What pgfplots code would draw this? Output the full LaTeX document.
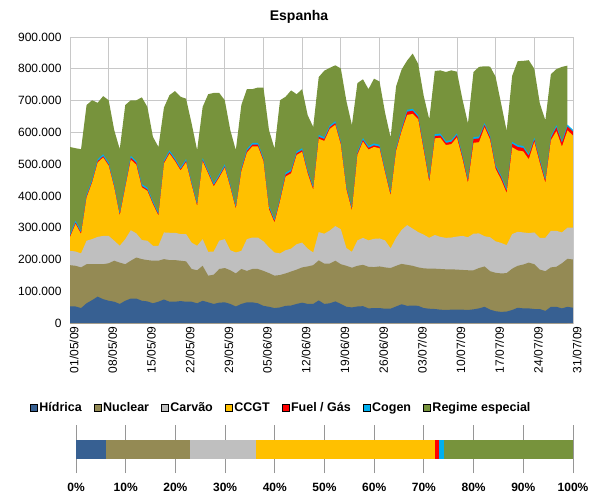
\documentclass[border=0pt]{standalone}
\usepackage{pgfplots}
\pgfplotsset{compat=1.18}
\usepackage{pgfplotstable}
\usepackage{fontspec}
\setmainfont{Liberation Sans}
\definecolor{cH}{RGB}{55,96,146}
\definecolor{cN}{RGB}{148,138,84}
\definecolor{cC}{RGB}{191,191,191}
\definecolor{cG}{RGB}{255,192,0}
\definecolor{cF}{RGB}{255,0,0}
\definecolor{cK}{RGB}{0,176,240}
\definecolor{cR}{RGB}{119,147,60}
\definecolor{gridc}{RGB}{200,200,200}
\definecolor{bargrid}{RGB}{150,150,150}

% values in thousands (MWh)
\pgfplotstableread{
d H N C G F K R
0 52 130 45 43 4 6 274
1 52 128 45 87 4 6 228
2 47 128 44 61 4 6 257
3 62 123 74 136 4 6 281
4 72 113 79 178 4 6 249
5 83 102 86 234 4 6 178
6 75 110 89 247 4 6 183
7 70 118 86 221 4 6 196
8 67 129 63 168 4 6 170
9 60 130 53 95 4 6 199
10 70 115 79 163 4 6 249
11 77 119 96 222 6 6 175
12 77 129 76 216 6 6 191
13 70 131 60 166 4 6 273
14 68 130 61 157 4 6 254
15 62 134 47 131 4 6 202
16 67 129 47 95 4 6 206
17 74 127 84 217 4 6 166
18 67 131 86 249 4 6 174
19 67 131 86 225 4 6 211
20 69 127 84 200 4 6 222
21 67 127 86 226 4 6 190
22 67 103 83 182 4 6 183
23 62 104 77 125 4 6 166
24 70 110 84 245 4 6 161
25 65 84 75 246 4 6 240
26 60 92 73 205 4 6 284
27 64 106 89 199 4 6 256
28 65 108 91 225 4 6 202
29 60 106 63 198 4 6 170
30 52 104 66 137 4 6 175
31 60 110 57 251 5 6 197
32 65 99 100 272 5 6 189
33 65 105 99 287 5 6 169
34 62 108 99 287 5 6 174
35 54 110 93 252 5 6 221
36 51 106 81 120 5 6 238
37 47 102 73 94 5 6 222
38 49 102 68 165 5 6 306
39 54 102 73 232 6 6 239
40 55 107 72 237 6 6 249
41 60 108 80 281 5 6 180
42 64 111 78 286 5 6 186
43 60 118 56 237 5 6 172
44 60 122 40 197 5 6 187
45 71 126 89 294 6 6 182
46 60 127 94 292 6 6 209
47 62 125 104 320 5 6 181
48 68 128 109 319 5 6 176
49 60 125 110 266 5 6 229
50 51 129 56 185 5 6 267
51 49 125 50 130 5 6 258
52 52 128 80 269 5 6 215
53 53 130 85 303 5 6 185
54 46 131 83 286 5 6 179
55 47 129 89 289 5 6 204
56 47 131 88 284 5 6 199
57 45 130 85 214 5 6 177
58 45 128 62 166 5 6 172
59 52 128 88 274 5 6 192
60 59 127 107 311 5 6 183
61 54 129 125 347 10 6 155
62 55 125 117 361 10 6 174
63 54 121 111 355 7 6 161
64 47 125 106 265 7 6 158
65 45 126 97 175 7 6 185
66 44 127 106 304 7 6 199
67 42 128 101 312 7 6 199
68 41 128 99 292 7 6 217
69 42 127 100 294 7 6 219
70 42 126 104 312 7 6 194
71 42 125 107 243 7 6 174
72 41 125 104 171 7 6 174
73 43 123 115 286 12 6 205
74 46 127 109 287 12 6 219
75 51 127 95 343 7 6 179
76 42 121 107 307 7 6 217
77 37 121 99 228 7 6 277
78 35 121 96 199 7 6 226
79 36 121 88 164 7 6 183
80 41 130 109 273 11 6 208
81 48 132 107 256 11 6 264
82 46 138 101 255 11 6 268
83 46 144 93 232 11 6 295
84 44 141 100 285 7 6 217
85 44 124 100 235 7 6 175
86 38 125 105 173 7 6 184
87 51 124 115 285 7 6 195
88 51 126 113 314 12 6 177
89 46 142 97 270 12 6 233
90 51 151 98 306 12 6 186
91 48 152 100 290 12 6 0
}\data

\begin{document}
\begin{tikzpicture}
\path[use as bounding box] (0pt,0pt) rectangle (596pt,-501pt);
\node[font=\bfseries\fontsize{14}{16}\selectfont] at (299pt,-17pt) {Espanha};

\begin{axis}[
  at={(70pt,-323pt)}, anchor=south west,
  width=503pt, height=286pt, scale only axis,
  xmin=0, xmax=91, ymin=0, ymax=900,
  xtick={0,7,...,91},
  xticklabels={01/05/09,08/05/09,15/05/09,22/05/09,29/05/09,05/06/09,12/06/09,19/06/09,26/06/09,03/07/09,10/07/09,17/07/09,24/07/09,31/07/09},
  ytick={0,100,...,900},
  yticklabels={0,100.000,200.000,300.000,400.000,500.000,600.000,700.000,800.000,900.000},
  /pgf/number format/assume math mode=true,
  grid=major, grid style={gridc, line width=0.8pt},
  axis line style={gridc, line width=0.8pt},
  major tick length=0pt,
  tick label style={font=\fontsize{12}{14}\selectfont},
  xticklabel style={rotate=90, anchor=east, yshift=-4pt},
  yticklabel style={xshift=-5pt},
  legend columns=7,
  legend style={at={(0.42,-0.297)}, anchor=center, draw=none, fill=none,
    font=\bfseries\fontsize{12.5}{14}\selectfont, inner sep=0pt,
    /tikz/every even column/.append style={column sep=10pt},
    nodes={inner xsep=2pt}},
  legend image code/.code={\fill[#1] (0pt,-3.5pt) rectangle (7pt,3.5pt);},
]
\addplot[fill=cR, draw=none, forget plot, restrict x to domain=0:90]
  table[x=d, y expr=\thisrow{H}+\thisrow{N}+\thisrow{C}+\thisrow{G}+\thisrow{F}+\thisrow{K}+\thisrow{R}] {\data} \closedcycle;
\addplot[fill=cK, draw=none, forget plot]
  table[x=d, y expr=\thisrow{H}+\thisrow{N}+\thisrow{C}+\thisrow{G}+\thisrow{F}+\thisrow{K}] {\data} \closedcycle;
\addplot[fill=cF, draw=none, forget plot]
  table[x=d, y expr=\thisrow{H}+\thisrow{N}+\thisrow{C}+\thisrow{G}+\thisrow{F}] {\data} \closedcycle;
\addplot[fill=cG, draw=none, forget plot]
  table[x=d, y expr=\thisrow{H}+\thisrow{N}+\thisrow{C}+\thisrow{G}] {\data} \closedcycle;
\addplot[fill=cC, draw=none, forget plot]
  table[x=d, y expr=\thisrow{H}+\thisrow{N}+\thisrow{C}] {\data} \closedcycle;
\addplot[fill=cN, draw=none, forget plot]
  table[x=d, y expr=\thisrow{H}+\thisrow{N}] {\data} \closedcycle;
\addplot[fill=cH, draw=none, forget plot]
  table[x=d, y=H] {\data} \closedcycle;

\addlegendimage{fill=cH}\addlegendentry{Hídrica}
\addlegendimage{fill=cN}\addlegendentry{Nuclear}
\addlegendimage{fill=cC}\addlegendentry{Carvão}
\addlegendimage{fill=cG}\addlegendentry{CCGT}
\addlegendimage{fill=cF}\addlegendentry{Fuel / Gás}
\addlegendimage{fill=cK}\addlegendentry{Cogen}
\addlegendimage{fill=cR}\addlegendentry{Regime especial}
\end{axis}

\begin{axis}[
  at={(76pt,-473pt)}, anchor=south west,
  width=497pt, height=48pt, scale only axis,
  xbar stacked, bar width=19pt,
  xmin=0, xmax=100, ymin=-1, ymax=1,
  ytick=\empty,
  xtick={0,10,...,100},
  xticklabel={\pgfmathprintnumber{\tick}\%},
  /pgf/number format/assume math mode=true,
  xmajorgrids, grid style={bargrid, line width=0.9pt},
  axis line style={draw=none},
  major tick length=0pt,
  xticklabel style={font=\bfseries\fontsize{12}{14}\selectfont, yshift=-7pt},
]
\addplot[fill=cH, draw=none] coordinates {(5.95,0)};
\addplot[fill=cN, draw=none] coordinates {(16.95,0)};
\addplot[fill=cC, draw=none] coordinates {(13.4,0)};
\addplot[fill=cG, draw=none] coordinates {(35.9,0)};
\addplot[fill=cF, draw=none] coordinates {(0.9,0)};
\addplot[fill=cK, draw=none] coordinates {(1.0,0)};
\addplot[fill=cR, draw=none] coordinates {(25.9,0)};
\end{axis}
\end{tikzpicture}
\end{document}
